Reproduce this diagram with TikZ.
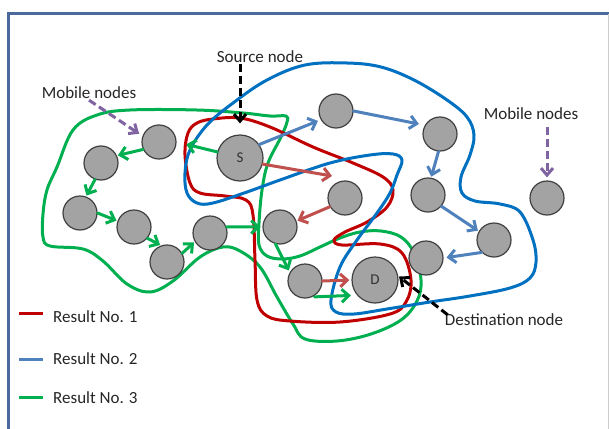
\documentclass[tikz,border=0pt]{standalone}
\usepackage{fontspec}
\setmainfont{Carlito}
\usetikzlibrary{arrows.meta}
\definecolor{framec}{HTML}{4A6A9B}
\definecolor{redline}{HTML}{C00000}
\definecolor{blueline}{HTML}{0070C0}
\definecolor{greenline}{HTML}{00B050}
\definecolor{redarr}{HTML}{C0504D}
\definecolor{bluearr}{HTML}{4F81BD}
\definecolor{purplearr}{HTML}{8064A2}
\definecolor{nodefill}{HTML}{A3A3A3}
\definecolor{txt}{HTML}{262626}
\tikzset{
  mnode/.style={circle, fill=nodefill, draw=black!75, line width=1.2pt, minimum size=34pt, inner sep=0pt},
  bignode/.style={mnode, minimum size=46pt, font=\fontsize{15}{17}\selectfont, text=black!80},
  lbl/.style={font=\fontsize{17}{20}\selectfont, text=txt, inner sep=1pt},
  arr/.style={-{Straight Barb[length=7pt,width=13pt]}, line width=3pt, line cap=round},
  garr/.style={arr, draw=greenline},
  barr/.style={arr, draw=bluearr},
  rarr/.style={arr, draw=redarr},
  pointer/.style={line width=3pt, dash pattern=on 8pt off 4pt, -{Straight Barb[length=7pt,width=12pt]}},
  outline/.style={line width=3pt, line join=round},
}
\begin{document}
\begin{tikzpicture}[x=1pt,y=-1pt]
\useasboundingbox (0,0) rectangle (609,428);
\clip (0,0) rectangle (609,428);
\fill[white] (0,0) rectangle (609,428);

% frame
\draw[framec, line width=3pt] (8,440) -- (8,14) -- (620,14);
\draw[black!20, line width=0.8pt] (608,14) -- (608,440);

% result outlines
\draw[outline, greenline] plot[smooth cycle, tension=0.6] coordinates {
  (43,214) (47,190) (57,167) (73,130) (97,115) (130,110) (197,110) (243,113)
  (270,116) (286,116) (287,122) (281,137) (268,163) (262,190) (259,223) (259,245)
  (267,256) (282,259) (300,256) (320,247) (340,238) (360,232) (381,231) (401,237)
  (414,253) (421,280) (417,301) (401,320) (371,334) (337,341) (305,339) (293,324)
  (277,297) (260,267) (240,251) (223,247) (200,257) (173,281) (150,292) (127,284)
  (103,261) (83,249) (50,246) (43,237)};
\draw[outline, redline] plot[smooth cycle, tension=0.6] coordinates {
  (197,123) (213,119) (240,118) (270,127) (313,147) (353,163) (383,177) (393,190)
  (387,207) (367,222) (345,232) (334,240) (342,245) (380,244) (402,253) (411,280)
  (406,302) (390,314) (340,322) (290,321) (267,316) (257,300) (255,260) (253,215)
  (246,200) (225,196) (200,193) (190,183) (185,155) (188,133)};
\draw[outline, blueline] plot[smooth cycle, tension=0.6] coordinates {
  (190,150) (207,125) (233,103) (267,80) (305,65) (347,63) (381,67) (414,80)
  (447,100) (467,117) (474,135) (470,155) (461,177) (462,193) (475,201) (500,204)
  (520,212) (533,240) (536,262) (530,278) (510,288) (470,296) (430,302) (387,309)
  (354,314) (336,312) (331,300) (340,267) (357,240) (377,213) (390,193) (397,175)
  (402,160) (393,154) (370,155) (330,163) (280,180) (247,192) (213,203) (197,203)
  (187,193) (185,173)};

% mobile nodes
\node[bignode] (S) at (240,158) {S};
\node[bignode] (D) at (375,280) {D};
\node[mnode] (n1) at (159,142) {};
\node[mnode] (n2) at (101,163) {};
\node[mnode] (n3) at (80,213) {};
\node[mnode] (n4) at (134,227) {};
\node[mnode] (n5) at (167,262) {};
\node[mnode] (n6) at (210,233) {};
\node[mnode] (n7) at (280,227) {};
\node[mnode] (n8) at (345,198) {};
\node[mnode] (n9) at (305,281) {};
\node[mnode] (n10) at (336,111) {};
\node[mnode] (n11) at (440,134) {};
\node[mnode] (n12) at (428,195) {};
\node[mnode] (n13) at (547,198) {};
\node[mnode] (n14) at (494,240) {};
\node[mnode] (n15) at (426,258) {};
\coordinate (r1) at (332,176);

% result no. 3 hops
\draw[garr, shorten >=10pt] (S.165) -- (n1.east);
\draw[garr, shorten >=1pt] (n1.205) -- (n2.25);
\draw[garr, shorten >=1pt] (n2.250) -- (n3.70);
\draw[garr, shorten >=1pt] (n3.east) -- (n4.160);
\draw[garr, shorten >=1pt] (n4.-40) -- (n5.110);
\draw[garr, shorten >=1pt] (n5.30) -- (n6.210);
\draw[garr, shorten >=2pt] (n6.20) -- (n7.west);
\draw[garr, shorten >=2pt] (n7.-105) -- (n9.150);
\draw[garr, shorten <=2pt, shorten >=6pt] (n9.-65) -- (D.220);

% result no. 2 hops
\draw[barr, shorten >=3pt] (S.35) -- (n10.210);
\draw[barr, shorten >=6pt] (n10.east) -- (n11.150);
\draw[barr, shorten >=1pt] (n11.-95) -- (n12.80);
\draw[barr, shorten >=1pt] (n12.-40) -- (n14.150);
\draw[barr, shorten >=3pt] (n14.225) -- (n15.east);

% result no. 1 hops
\draw[rarr] (S.-15) -- (r1);
\draw[rarr, shorten >=1pt] (n8.210) -- (n7.20);
\draw[rarr, shorten >=2pt] (n9.east) -- (D.west);

% callouts
\node[lbl] (src) at (260,57) {Source node};
\node[lbl] (dst) at (504,320) {Destination node};
\node[lbl] (mobl) at (89,93) {Mobile nodes};
\node[lbl] (mobr) at (531,114) {Mobile nodes};
\draw[pointer, black, shorten >=11pt] (src.south -| S) -- (S.north);
\draw[pointer, black, shorten >=1pt] (dst.north west) ++(4,2) -- (D.10);
\draw[pointer, purplearr, shorten >=4pt] (mobl.south) -- (n1.160);
\draw[pointer, purplearr, shorten <=6pt, shorten >=3pt] (mobr.south -| n13) -- (n13.north);

% legend
\draw[redline, line width=3pt] (19,313) -- (43,313);
\draw[bluearr, line width=3pt] (19,359) -- (43,359);
\draw[greenline, line width=3pt] (19,397) -- (43,397);
\node[lbl, anchor=west] (k1) at (52,317) {Result No. 1};
\node[lbl, anchor=west] (k2) at (52,359) {Result No. 2};
\node[lbl, anchor=west] (k3) at (52,398) {Result No. 3};
\end{tikzpicture}
\end{document}
